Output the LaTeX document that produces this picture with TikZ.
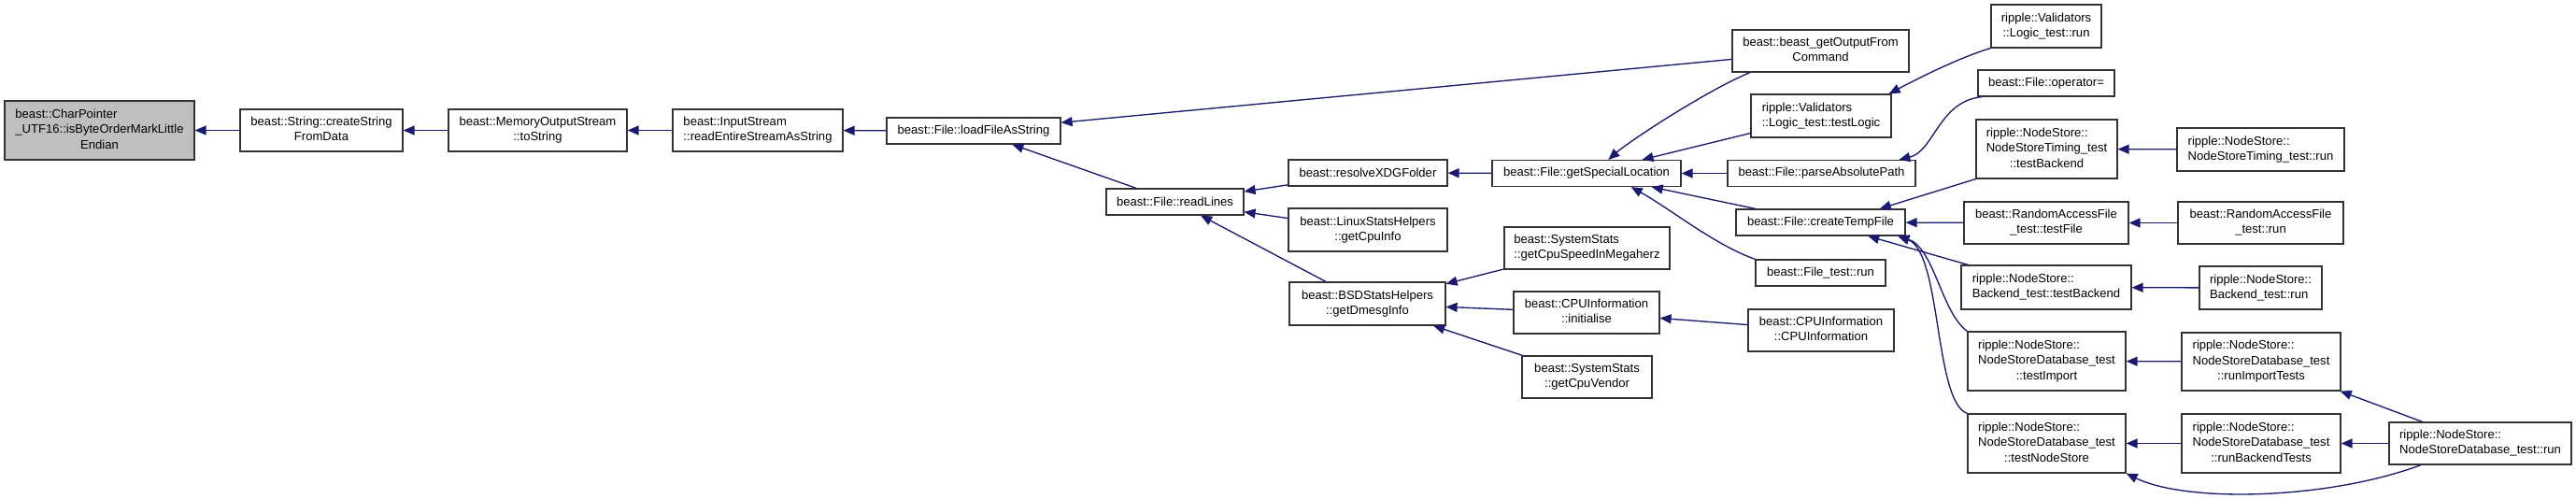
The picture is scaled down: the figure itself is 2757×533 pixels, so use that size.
\documentclass[tikz,border=0pt]{standalone}
\usepackage{fontspec}
\setmainfont{Liberation Sans}
\usetikzlibrary{arrows.meta}
\definecolor{edgeblue}{HTML}{191970}
\definecolor{focusgray}{HTML}{BFBFBF}
\newcommand{\lbl}[1]{\begin{tabular}{@{}l@{}}#1\end{tabular}}
\newcommand{\ctrline}[1]{\multicolumn{1}{@{}c@{}}{#1}}
\tikzset{
  fnbox/.style={draw=black!80, line width=0.9pt, inner sep=0pt, fill=white,
    font=\fontsize{9.8}{12.2}\selectfont},
  sz/.style 2 args={minimum width=#1*0.75pt, minimum height=#2*0.75pt},
}
\begin{document}
\begin{tikzpicture}[x=0.75pt,y=-0.75pt,<-,>={Triangle[length=9pt,width=7.5pt]},
    draw=edgeblue,line width=1pt]
        \useasboundingbox (0,0) rectangle (2757,533);
        \node[fnbox,sz={203}{63},fill=focusgray] (bom) at (106.5,139.5) {\lbl{beast::CharPointer\\\_UTF16::isByteOrderMarkLittle\\\ctrline{Endian}}};
        \node[fnbox,sz={174}{45}] (csfd) at (344,139.5) {\lbl{beast::String::createString\\\ctrline{FromData}}};
        \node[fnbox,sz={191}{45}] (mtos) at (575.5,139.5) {\lbl{beast::MemoryOutputStream\\\ctrline{::toString}}};
        \node[fnbox,sz={182}{45}] (rsas) at (811,139.5) {\lbl{beast::InputStream\\::readEntireStreamAsString}};
        \node[fnbox,sz={186}{28}] (lfas) at (1042,140) {beast::File::loadFileAsString};
        \node[fnbox,sz={147}{28}] (rdl) at (1257.5,216) {beast::File::readLines};
        \node[fnbox,sz={170}{28}] (xdg) at (1464,185) {beast::resolveXDGFolder};
        \node[fnbox,sz={170}{46}] (lsh) at (1464,246) {\lbl{beast::LinuxStatsHelpers\\\ctrline{::getCpuInfo}}};
        \node[fnbox,sz={167}{46}] (bsd) at (1463.5,325) {\lbl{beast::BSDStatsHelpers\\\ctrline{::getDmesgInfo}}};
        \node[fnbox,sz={202}{28}] (gsl) at (1698,185.5) {beast::File::getSpecialLocation};
        \node[fnbox,sz={177}{45}] (csm) at (1698.5,265.5) {\lbl{beast::SystemStats\\::getCpuSpeedInMegaherz}};
        \node[fnbox,sz={156}{45}] (cpi) at (1698,334.5) {\lbl{beast::CPUInformation\\\ctrline{::initialise}}};
        \node[fnbox,sz={139}{45}] (csv) at (1698.5,403.5) {\lbl{beast::SystemStats\\\ctrline{::getCpuVendor}}};
        \node[fnbox,sz={189}{45}] (gof) at (1948.5,54.5) {\lbl{beast::beast\_getOutputFrom\\\ctrline{Command}}};
        \node[fnbox,sz={150}{46}] (vtl) at (1949,124) {\lbl{ripple::Validators\\::Logic\_test::testLogic}};
        \node[fnbox,sz={201}{28}] (pap) at (1949.5,185.5) {beast::File::parseAbsolutePath};
        \node[fnbox,sz={181}{28}] (ctf) at (1948.5,238) {beast::File::createTempFile};
        \node[fnbox,sz={139}{28}] (ftr) at (1948.5,292) {beast::File\_test::run};
        \node[fnbox,sz={156}{45}] (cpc) at (1949,353.5) {\lbl{beast::CPUInformation\\\ctrline{::CPUInformation}}};
        \node[fnbox,sz={118}{46}] (vtr) at (2190,28) {\lbl{ripple::Validators\\\ctrline{::Logic\_test::run}}};
        \node[fnbox,sz={146}{28}] (fop) at (2190,89) {beast::File::operator=};
        \node[fnbox,sz={151}{63}] (ntb) at (2190.5,159.5) {\lbl{ripple::NodeStore::\\NodeStoreTiming\_test\\\ctrline{::testBackend}}};
        \node[fnbox,sz={176}{45}] (raft) at (2190,238.5) {\lbl{beast::RandomAccessFile\\\ctrline{\_test::testFile}}};
        \node[fnbox,sz={182}{47}] (btb) at (2190,307.5) {\lbl{ripple::NodeStore::\\Backend\_test::testBackend}};
        \node[fnbox,sz={169}{63}] (nti) at (2190.5,386.5) {\lbl{ripple::NodeStore::\\NodeStoreDatabase\_test\\\ctrline{::testImport}}};
        \node[fnbox,sz={169}{63}] (nts) at (2190.5,474.5) {\lbl{ripple::NodeStore::\\NodeStoreDatabase\_test\\\ctrline{::testNodeStore}}};
        \node[fnbox,sz={179}{46}] (ntr) at (2419.5,160) {\lbl{ripple::NodeStore::\\NodeStoreTiming\_test::run}};
        \node[fnbox,sz={177}{45}] (rafr) at (2419.5,238.5) {\lbl{beast::RandomAccessFile\\\ctrline{\_test::run}}};
        \node[fnbox,sz={131}{46}] (btr) at (2419.5,308) {\lbl{ripple::NodeStore::\\Backend\_test::run}};
        \node[fnbox,sz={170}{62}] (nri) at (2420,387) {\lbl{ripple::NodeStore::\\NodeStoreDatabase\_test\\\ctrline{::runImportTests}}};
        \node[fnbox,sz={170}{63}] (nrb) at (2420,474.5) {\lbl{ripple::NodeStore::\\NodeStoreDatabase\_test\\\ctrline{::runBackendTests}}};
        \node[fnbox,sz={195}{45}] (ndr) at (2654.5,474.5) {\lbl{ripple::NodeStore::\\NodeStoreDatabase\_test::run}};
        % callers point back at the functions they call
        \draw (bom) -- (csfd); \draw (csfd) -- (mtos);
        \draw (mtos) -- (rsas); \draw (rsas) -- (lfas);
        \draw (lfas) -- (gof); \draw (lfas) -- (rdl);
        \draw (rdl) -- (xdg); \draw (rdl) -- (lsh); \draw (rdl) -- (bsd);
        \draw (xdg) -- (gsl);
        \draw (bsd) -- (csm); \draw (bsd) -- (cpi); \draw (bsd) -- (csv);
        \draw (cpi) -- (cpc);
        \draw (gsl.32) .. controls (1745,150) and (1830,95) .. (gof.197);
        \draw (gsl) -- (vtl); \draw (gsl) -- (pap); \draw (gsl) -- (ctf);
        \draw (gsl.343) .. controls (1790,225) and (1835,262) .. (ftr.north west);
        \draw (vtl.18) .. controls (2045,88) and (2095,62) .. (vtr.south west);
        \draw (pap.10) .. controls (2070,162) and (2075,108) .. (fop.192);
        \draw (ctf.13) -- (ntb.south west);
        \draw (ctf) -- (raft); \draw (ctf) -- (btb);
        \draw (ctf.350) .. controls (2070,265) and (2078,335) .. (nti.north west);
        \draw (ctf.350) .. controls (2078,270) and (2070,430) .. (nts.north west);
        \draw (ntb) -- (ntr); \draw (raft) -- (rafr); \draw (btb) -- (btr);
        \draw (nti) -- (nri); \draw (nts) -- (nrb);
        \draw (nri) -- (ndr); \draw (nrb) -- (ndr);
        \draw (nts.south east) .. controls (2340,538) and (2490,535) .. (ndr.200);
\end{tikzpicture}
\end{document}
